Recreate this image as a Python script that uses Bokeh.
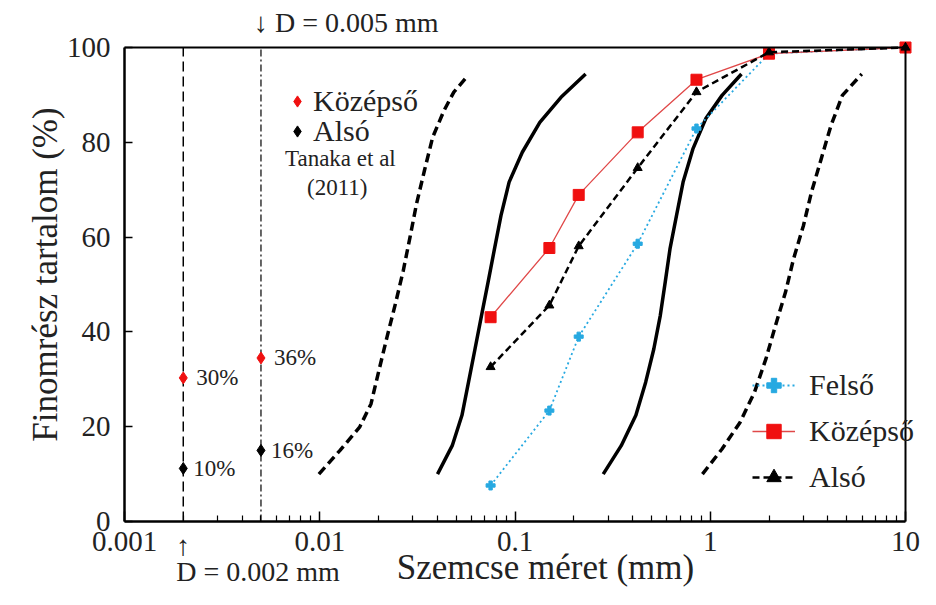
import math
from bokeh.plotting import figure
from bokeh.models import (Legend, LegendItem, Label, FixedTicker, CustomJSTickFormatter,
                          Range1d, LogAxis, LinearAxis)
from bokeh.core.properties import value
from bokeh.embed import file_html
from bokeh.resources import INLINE

FONT = "Liberation Serif"
TXT = "#222222"

# ---- data -------------------------------------------------------------
sieve_mm = [0.075, 0.15, 0.212, 0.425, 0.85, 2.0, 10.0]
felso = [7.6, 23.4, 39.0, 58.6, 82.9, 98.7, 100.0]
kozepso = [43.1, 57.7, 68.9, 82.1, 93.2, 98.7, 100.0]
also = [32.6, 45.6, 58.1, 74.6, 90.6, 99.0, 100.0]

# Tanaka et al. (2011) boundary curves
tanaka_outer_fine_x = [0.0099, 0.0127, 0.0160, 0.0183, 0.0201, 0.0221, 0.0244, 0.0268, 0.0290,
                       0.0313, 0.0344, 0.0379, 0.0433, 0.0486, 0.0556]
tanaka_outer_fine_y = [10.0, 15.0, 19.9, 24.8, 31.9, 38.9, 45.9, 53.0, 60.0,
                       67.0, 74.1, 81.1, 86.7, 90.6, 93.4]
tanaka_inner_fine_x = [0.0401, 0.0477, 0.0535, 0.0578, 0.0624, 0.0674, 0.0728, 0.0785, 0.0848,
                       0.0933, 0.109, 0.134, 0.172, 0.230]
tanaka_inner_fine_y = [10.0, 16.0, 22.4, 29.4, 36.4, 43.5, 50.5, 57.5, 64.6,
                       71.6, 77.9, 84.2, 89.5, 94.4]
tanaka_inner_coarse_x = [0.283, 0.350, 0.416, 0.467, 0.514, 0.555, 0.588, 0.622, 0.672,
                         0.726, 0.815, 0.949, 1.149, 1.445]
tanaka_inner_coarse_y = [10.0, 16.0, 22.4, 29.4, 36.4, 43.5, 50.5, 57.5, 64.6,
                         71.6, 78.6, 85.0, 89.9, 94.4]
tanaka_outer_coarse_x = [0.912, 1.149, 1.420, 1.686, 1.928, 2.16, 2.43, 2.67, 3.00,
                         3.30, 3.70, 4.15, 4.75, 5.97]
tanaka_outer_coarse_y = [10.0, 15.3, 20.9, 27.3, 34.3, 41.4, 48.4, 55.4, 62.4,
                         69.5, 76.5, 83.5, 89.9, 94.4]

clay_d = [0.002, 0.005]
clay_kozepso = [30.3, 34.5]
clay_kozepso_lbl = ["30%", "36%"]
clay_also = [11.2, 15.0]
clay_also_lbl = ["10%", "16%"]

x_ticks = [0.001, 0.01, 0.1, 1, 10]
y_ticks = [0, 20, 40, 60, 80, 100]

# ---- layout (pixels) --------------------------------------------------
W, H = 920, 589
XL_PX, XR_PX = 124, 905      # pixel of first / last x tick
YB_PX, YT_PX = 521, 47       # pixel of first / last y tick
lx0, lx1 = math.log10(x_ticks[0]), math.log10(x_ticks[-1])
dec_per_px = (lx1 - lx0) / (XR_PX - XL_PX)
x_lo = 10 ** (lx0 - XL_PX * dec_per_px)
x_hi = 10 ** (lx1 + (W - XR_PX) * dec_per_px)
val_per_px = (y_ticks[-1] - y_ticks[0]) / (YB_PX - YT_PX)
y_lo = y_ticks[0] - (H - YB_PX) * val_per_px
y_hi = y_ticks[-1] + YT_PX * val_per_px

p = figure(width=W, height=H, x_axis_type="log",
           x_range=Range1d(x_lo, x_hi), y_range=Range1d(y_lo, y_hi),
           output_backend="svg", toolbar_location=None, min_border=0)
p.xgrid.visible = False
p.ygrid.visible = False
p.outline_line_color = None
p.background_fill_color = "white"
p.border_fill_color = "white"

minor = [m * d for d in x_ticks[:-1] for m in range(2, 10)]
xax = p.xaxis[0]
yax = p.yaxis[0]
xax.ticker = FixedTicker(ticks=x_ticks, minor_ticks=minor)
xax.formatter = CustomJSTickFormatter(code="return tick.toString();")
yax.ticker = FixedTicker(ticks=y_ticks, minor_ticks=[])
xax.fixed_location = y_ticks[0]
yax.fixed_location = x_ticks[0]
xax.bounds = (x_ticks[0], x_ticks[-1])
yax.bounds = (y_ticks[0], y_ticks[-1])

for ax in (xax, yax):
    ax.axis_line_width = 2.5
    ax.axis_line_color = "black"
    ax.major_tick_out = 0
    ax.minor_tick_out = 0
    ax.major_tick_line_width = 1.5
    ax.minor_tick_line_width = 1.2
    ax.major_label_text_font = FONT
    ax.major_label_text_font_size = "29px"
    ax.major_label_text_color = TXT

xax.major_tick_in = 10
xax.minor_tick_in = 6
xax.major_label_standoff = 10
yax.major_tick_in = 8
yax.minor_tick_in = 0
yax.major_label_standoff = 14

# top and right frame lines
top_ax = LogAxis(fixed_location=y_ticks[-1], bounds=(x_ticks[0], x_ticks[-1]),
                 ticker=FixedTicker(ticks=[]), axis_line_width=2, major_label_text_alpha=0)
right_ax = LinearAxis(fixed_location=x_ticks[-1], bounds=(y_ticks[0], y_ticks[-1]),
                      ticker=FixedTicker(ticks=[]), axis_line_width=2, major_label_text_alpha=0)
p.add_layout(top_ax, "above")
p.add_layout(right_ax, "right")

# vertical reference lines (D = 0.002 mm, D = 0.005 mm)
p.line([clay_d[0], clay_d[0]], [y_ticks[0], y_ticks[-1]], line_color="black",
       line_width=1.5, line_dash="10 5")
p.line([clay_d[1], clay_d[1]], [y_ticks[0], y_ticks[-1]], line_color="black",
       line_width=1.2, line_dash="7 3 2 3")

# Tanaka curves
p.line(tanaka_outer_fine_x, tanaka_outer_fine_y, line_color="black", line_width=3.5,
       line_dash="9 5", line_join="round")
p.line(tanaka_inner_fine_x, tanaka_inner_fine_y, line_color="black", line_width=3.5,
       line_join="round")
p.line(tanaka_inner_coarse_x, tanaka_inner_coarse_y, line_color="black", line_width=3.5,
       line_join="round")
p.line(tanaka_outer_coarse_x, tanaka_outer_coarse_y, line_color="black", line_width=3.5,
       line_dash="9 5", line_join="round")

# measured curves
blue = "#27a9e1"
f_line = p.line(sieve_mm, felso, line_color=blue, line_width=1.8, line_dash="2 3")
f_pts = p.scatter(sieve_mm, felso, marker="plus", size=9, color=blue)
k_line = p.line(sieve_mm, kozepso, line_color="#e04848", line_width=1.3)
k_pts = p.scatter(sieve_mm, kozepso, marker="square", size=11, color="#f01010")
a_line = p.line(sieve_mm, also, line_color="black", line_width=2.5, line_dash="7 4")
a_pts = p.scatter(sieve_mm, also, marker="triangle", size=9, color="black")

# clay fraction points
kd = p.scatter(clay_d, clay_kozepso, marker="diamond", size=12, color="#f01010")
ad = p.scatter(clay_d, clay_also, marker="diamond", size=12, color="black")
p.text(clay_d, clay_kozepso, text=clay_kozepso_lbl, x_offset=13, text_baseline="middle",
       text_font=value(FONT), text_font_size="23px", text_color=TXT)
p.text(clay_d, clay_also, text=clay_also_lbl, x_offset=10, text_baseline="middle",
       text_font=value(FONT), text_font_size="23px", text_color=TXT)

# legends
def mk_legend(items, loc, gw, gh, lh, sp, so):
    lg = Legend(items=items, location=loc, glyph_width=gw, glyph_height=gh, label_height=lh,
                spacing=sp, padding=0, margin=0, label_standoff=so,
                border_line_color=None, background_fill_alpha=0,
                label_text_font=FONT, label_text_font_size="30px", label_text_color=TXT)
    p.add_layout(lg)

mk_legend([LegendItem(label="Felső", renderers=[f_line, f_pts]),
           LegendItem(label="Középső", renderers=[k_line, k_pts]),
           LegendItem(label="Alsó", renderers=[a_line, a_pts])],
          (752, 94), 43, 36, 36, 10, 14)
mk_legend([LegendItem(label="Középső", renderers=[kd])], (283, 471), 28, 30, 30, 0, 2)
mk_legend([LegendItem(label="Alsó", renderers=[ad])], (283, 441), 28, 30, 30, 0, 2)

def lbl(text, x, y, size, x_units="data", y_units="data", x_offset=0, align="left", angle=0):
    p.add_layout(Label(text=text, x=x, y=y, x_units=x_units, y_units=y_units,
                       x_offset=x_offset, text_align=align, text_baseline="middle", angle=angle,
                       text_font=FONT, text_font_size=size, text_color=TXT))

lbl("Tanaka et al", clay_d[1], 76.6, "23px", x_offset=24)
lbl("(2011)", clay_d[1], 70.5, "23px", x_offset=46)
lbl("↓ D = 0.005 mm", clay_d[1], H - 22, "28px", y_units="screen", x_offset=-7)
lbl("↑", clay_d[0], H - 545, "28px", y_units="screen", align="center")
lbl("D = 0.002 mm", clay_d[0], H - 571, "28px", y_units="screen", x_offset=-7)
lbl("Szemcse méret (mm)", 545, H - 567, "35px", x_units="screen", y_units="screen", align="center")
lbl("Finomrész tartalom (%)", 45, H - 274, "35px", x_units="screen", y_units="screen",
    align="center", angle=math.pi / 2)

open("out.html", "w").write(file_html(p, INLINE))
